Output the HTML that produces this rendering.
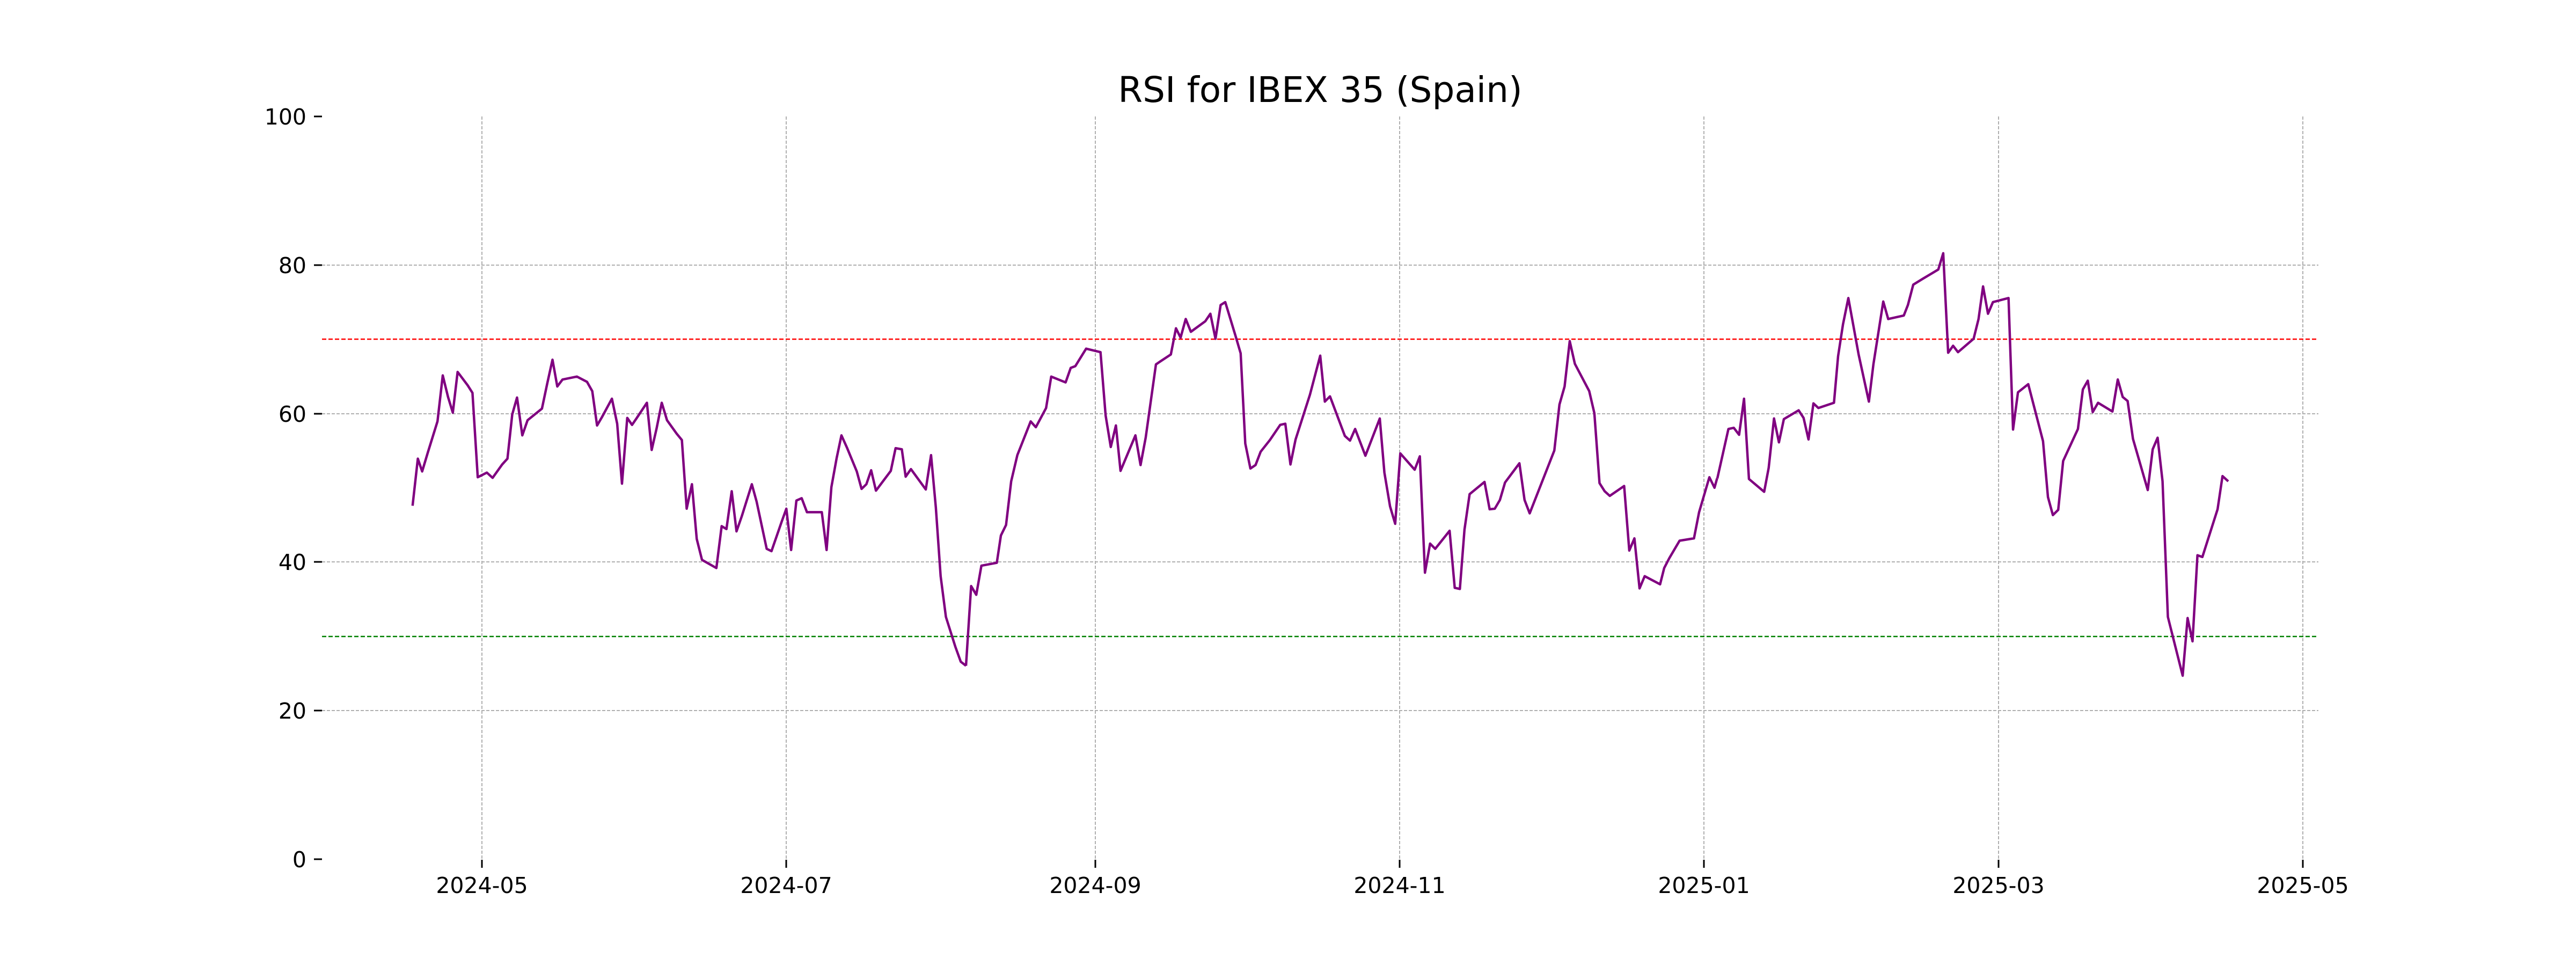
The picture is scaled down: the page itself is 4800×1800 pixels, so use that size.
<!DOCTYPE html>
<html><head><meta charset="utf-8"><style>html,body{margin:0;padding:0;background:#fff}svg{display:block}</style></head>
<body>
<svg width="4800" height="1800" viewBox="0 0 4800 1800" xmlns="http://www.w3.org/2000/svg" font-family="DejaVu Sans, Liberation Sans, sans-serif">
<rect width="4800" height="1800" fill="#fff"/>
<g stroke="#b0b0b0" stroke-width="2" stroke-dasharray="6,3" fill="none">
<line x1="600" y1="1324" x2="4320" y2="1324"/>
<line x1="600" y1="1047" x2="4320" y2="1047"/>
<line x1="600" y1="771" x2="4320" y2="771"/>
<line x1="600" y1="494" x2="4320" y2="494"/>
<line x1="898" y1="217" x2="898" y2="1601"/>
<line x1="1465" y1="217" x2="1465" y2="1601"/>
<line x1="2041" y1="217" x2="2041" y2="1601"/>
<line x1="2608" y1="217" x2="2608" y2="1601"/>
<line x1="3175" y1="217" x2="3175" y2="1601"/>
<line x1="3724" y1="217" x2="3724" y2="1601"/>
<line x1="4291" y1="217" x2="4291" y2="1601"/>
</g>
<line x1="600" y1="632" x2="4320" y2="632" stroke="#ff0000" stroke-width="2.5" stroke-dasharray="8,4"/>
<line x1="600" y1="1186" x2="4320" y2="1186" stroke="#008000" stroke-width="2.5" stroke-dasharray="8,4"/>
<g stroke="#000" stroke-width="3">
<line x1="585" y1="1601" x2="600" y2="1601"/><line x1="585" y1="1324" x2="600" y2="1324"/><line x1="585" y1="1047" x2="600" y2="1047"/><line x1="585" y1="771" x2="600" y2="771"/><line x1="585" y1="494" x2="600" y2="494"/><line x1="585" y1="217" x2="600" y2="217"/>
<line x1="898" y1="1602" x2="898" y2="1617"/><line x1="1465" y1="1602" x2="1465" y2="1617"/><line x1="2041" y1="1602" x2="2041" y2="1617"/><line x1="2608" y1="1602" x2="2608" y2="1617"/><line x1="3175" y1="1602" x2="3175" y2="1617"/><line x1="3724" y1="1602" x2="3724" y2="1617"/><line x1="4291" y1="1602" x2="4291" y2="1617"/>
</g>
<g font-size="41" fill="#000" text-anchor="end">
<text x="571" y="1616">0</text><text x="571" y="1339">20</text><text x="571" y="1062">40</text><text x="571" y="786">60</text><text x="571" y="509">80</text><text x="571" y="232">100</text>
</g>
<g font-size="41" fill="#000" text-anchor="middle">
<text x="898" y="1664">2024-05</text><text x="1465" y="1664">2024-07</text><text x="2041" y="1664">2024-09</text><text x="2608" y="1664">2024-11</text><text x="3175" y="1664">2025-01</text><text x="3724" y="1664">2025-03</text><text x="4291" y="1664">2025-05</text>
</g>
<text x="2460" y="190" font-size="66" text-anchor="middle" fill="#000">RSI for IBEX 35 (Spain)</text>
<g fill="none" stroke="#800080" stroke-linejoin="round">
<polyline vector-effect="non-scaling-stroke" stroke-width="4.5" transform="translate(400,100) scale(0.8929,1.0842)" points="413,777 424,696 433,718 445,685 465,632 476,553 487,590 497,617 507,547 528,570 538,583 549,728 568,720 580,729 600,706 611,696 621,620 631,591 642,656 653,630 665,622 683,610 694,567 705,526 715,572 726,560 756,555 777,564 788,580 798,639 808,625 829,593 840,636 850,739 861,626 871,638 881,626 902,600 912,681 922,645 933,600 944,630 964,653 975,664 985,782 996,740 1006,834 1017,870 1047,884 1058,812 1068,817 1079,752 1089,821 1100,795 1121,740 1131,770 1152,851 1162,855 1183,805 1193,782 1203,853 1214,768 1225,764 1236,788 1267,788 1277,853 1287,745 1298,695 1308,656 1320,678 1340,718 1350,748 1360,740 1370,716 1380,751 1411,717 1421,678 1434,680 1442,727 1453,714 1484,749 1495,690 1505,780 1515,898 1526,968 1546,1020 1557,1045 1568,1052"/>
<polyline vector-effect="non-scaling-stroke" stroke-width="4.5" transform="translate(1800,100) scale(0.9566,1.0842)" points="0,1052 10,915 20,930 30,880 60,875 68,828 78,810 88,735 100,690 126,632 136,642 156,609 166,555 194,565 204,540 213,537 234,507 262,513 272,622 282,676 292,639 301,717 330,656 340,707 350,660 370,534 380,528 399,517 409,472 418,488 428,456 438,478 466,460 476,447 486,490 496,432 505,427 525,485 535,515 544,670 554,713 564,707 574,684 592,664 612,638 622,636 632,706 642,663 670,586 690,519 699,598 709,589 738,657 748,665 758,645 778,691 806,627 815,720 826,778 836,808 846,687 874,715 884,692 894,892 904,842 914,851 942,820 952,918 962,920 971,818 981,757 1010,736 1020,783 1030,782 1040,767 1050,737 1078,704 1088,767 1098,790 1146,682 1156,603 1166,572 1176,494 1186,533 1214,580 1224,618 1234,738 1244,752 1254,760 1282,743 1292,854 1302,833 1312,919 1322,898 1352,912 1360,884 1370,867 1390,837 1418,833 1428,788 1448,728 1458,746 1463,730"/>
<polyline vector-effect="non-scaling-stroke" stroke-width="4.5" transform="translate(3200,100) scale(0.7653,1.0842)" points="0,730 27,645 40,643 53,655 65,593 77,731 114,753 125,712 138,627 150,668 162,628 198,613 210,626 222,663 234,601 246,609 284,600 294,520 306,465 319,420 344,517 369,598 380,534 404,426 416,456 454,450 464,432 477,397 500,387 538,371 550,343 562,514 574,502 586,513 624,490 636,456 647,400 659,447 671,427 709,420 720,646 732,582 757,568 793,666 805,762 817,793 830,784 842,700 878,645 890,577 902,562 914,616 927,600 962,615 975,560 987,590 999,597 1012,662 1048,750 1060,680 1072,660 1084,735 1097,968 1133,1069 1145,970 1157,1010 1169,862 1181,865 1218,783 1230,726 1244,735"/>
</g>
</svg>
</body></html>
